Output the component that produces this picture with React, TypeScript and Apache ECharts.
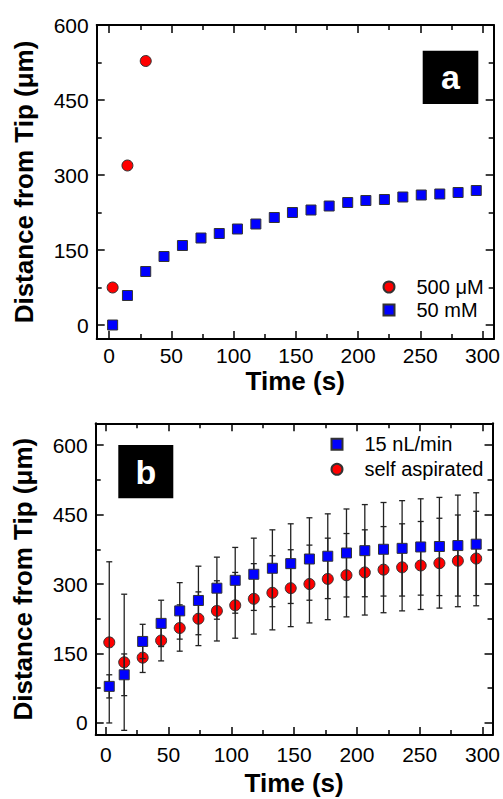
import React, { useEffect, useRef } from "react";
import * as echarts from "echarts";

// ---------- data ----------
const timeS = [2.8, 14.7, 29.4, 44.1, 58.9, 73.8, 88.5, 103.1, 117.9, 132.7, 147.3, 162.2, 176.8, 191.7, 206.3, 221.2, 236, 250.8, 265.7, 280.4, 295];

// panel a
const redA = [75, 319, 528]; // 500 µM (first three time points)
const blueA = [0, 59, 107, 137, 159, 174, 183, 192, 202, 215, 225, 230, 238, 245, 249, 251, 256, 260, 262, 265, 269]; // 50 mM

// panel b
const blueB = [79, 104, 176, 215, 242, 264.5, 291, 308, 321, 334, 344, 354, 360, 367, 372, 375, 377, 380, 381, 383, 386]; // 15 nL/min
const blueBErr = [25, 45, 37, 50, 61, 74, 67, 71, 78, 83, 86, 89, 91.5, 95, 99.5, 101, 103, 104, 106, 109, 111];
const redB = [174, 131, 141, 178, 205, 225, 242, 254, 268, 281, 291, 300, 311, 319, 325, 331, 336, 340, 345, 350, 355]; // self aspirated
const redBErr = [174, 147, 32, 44, 50, 58, 65, 71, 76, 80, 83, 84, 88, 90, 92, 93, 94, 95, 97, 99, 102];

const xMajor = [0, 50, 100, 150, 200, 250, 300];
const xMinor = [25, 75, 125, 175, 225, 275];
const yMajorA = [0, 150, 300, 450, 600];
const yMinorA = [75, 225, 375, 525];
const yMajorB = [0, 150, 300, 450, 600];
const yMinorB = [75, 225, 375, 525];

const FONT = "'Liberation Sans', Arial, sans-serif";

function xAxes(gridIndex: number, min: number, max: number, nameGap: number, labelMargin: number) {
  const common: any = { type: "value", gridIndex, min, max, splitLine: { show: false } };
  const line = { show: true, onZero: false, lineStyle: { color: "#000", width: 2 } };
  const noLine = { show: false, onZero: false };
  const tickStyle = { color: "#000", width: 1.5 };
  return [
    {
      ...common,
      position: "bottom",
      name: "Time (s)",
      nameLocation: "middle",
      nameGap,
      nameTextStyle: { fontFamily: FONT, fontWeight: "bold", fontSize: 26, color: "#000" },
      axisLine: line,
      axisTick: { show: true, inside: true, length: 8, customValues: xMajor, lineStyle: tickStyle },
      axisLabel: { show: true, customValues: xMajor, margin: labelMargin, fontFamily: FONT, fontSize: 21, color: "#000" },
    },
    {
      ...common,
      position: "bottom",
      axisLine: noLine,
      axisTick: { show: true, inside: true, length: 5, customValues: xMinor, lineStyle: tickStyle },
      axisLabel: { show: false },
    },
    {
      ...common,
      position: "top",
      axisLine: line,
      axisTick: { show: true, inside: true, length: 8, customValues: xMajor, lineStyle: tickStyle },
      axisLabel: { show: false },
    },
    {
      ...common,
      position: "top",
      axisLine: noLine,
      axisTick: { show: true, inside: true, length: 5, customValues: xMinor, lineStyle: tickStyle },
      axisLabel: { show: false },
    },
  ];
}

function yAxes(gridIndex: number, min: number, max: number, major: number[], minor: number[], nameGap: number) {
  const common: any = { type: "value", gridIndex, min, max, splitLine: { show: false } };
  const line = { show: true, onZero: false, lineStyle: { color: "#000", width: 2 } };
  const noLine = { show: false, onZero: false };
  const tickStyle = { color: "#000", width: 1.5 };
  return [
    {
      ...common,
      position: "left",
      name: "Distance from Tip (\u03bcm)",
      nameLocation: "middle",
      nameGap,
      nameTextStyle: { fontFamily: FONT, fontWeight: "bold", fontSize: 26, color: "#000" },
      axisLine: line,
      axisTick: { show: true, inside: true, length: 8, customValues: major, lineStyle: tickStyle },
      axisLabel: { show: true, customValues: major, margin: 8, fontFamily: FONT, fontSize: 21, color: "#000" },
    },
    {
      ...common,
      position: "left",
      axisLine: noLine,
      axisTick: { show: true, inside: true, length: 5, customValues: minor, lineStyle: tickStyle },
      axisLabel: { show: false },
    },
    {
      ...common,
      position: "right",
      axisLine: line,
      axisTick: { show: true, inside: true, length: 8, customValues: major, lineStyle: tickStyle },
      axisLabel: { show: false },
    },
    {
      ...common,
      position: "right",
      axisLine: noLine,
      axisTick: { show: true, inside: true, length: 5, customValues: minor, lineStyle: tickStyle },
      axisLabel: { show: false },
    },
  ];
}

function errRender(params: any, api: any) {
  const x = api.value(0);
  const lo = api.value(1);
  const hi = api.value(2);
  const p1 = api.coord([x, hi]);
  const p2 = api.coord([x, lo]);
  const hw = 3;
  const style = { stroke: "#222", lineWidth: 1.3, fill: null };
  return {
    type: "group",
    children: [
      { type: "line", shape: { x1: p1[0], y1: p1[1], x2: p2[0], y2: p2[1] }, style },
      { type: "line", shape: { x1: p1[0] - hw, y1: p1[1], x2: p1[0] + hw, y2: p1[1] }, style },
      { type: "line", shape: { x1: p2[0] - hw, y1: p2[1], x2: p2[0] + hw, y2: p2[1] }, style },
    ],
  };
}

const RED = "#ff0000";
const BLUE = "#0000ff";
const markerStyle = { borderColor: "#333", borderWidth: 1, opacity: 1 };

export default function App() {
  const ref = useRef<HTMLDivElement>(null);

  useEffect(() => {
    if (!ref.current) return;
    const chart = echarts.init(ref.current, null, { renderer: "svg" });

    const legendText = { fontFamily: FONT, fontSize: 20, color: "#000", lineHeight: 20, padding: [0, 0, 0, 17] };

    const option: any = {
      animation: false,
      backgroundColor: "#fff",
      grid: [
        { left: 96.7, top: 25, width: 400, height: 314 },
        { left: 95.7, top: 423.3, width: 397.6, height: 311.7 },
      ],
      xAxis: [...xAxes(0, -10, 309, 29, 6), ...xAxes(1, -8, 308, 35, 8.5)],
      yAxis: [...yAxes(0, -28, 600, yMajorA, yMinorA, 60), ...yAxes(1, -26, 647, yMajorB, yMinorB, 60)],
      legend: [
        {
          orient: "vertical",
          left: 382.5,
          top: 277,
          padding: 0,
          itemGap: 3,
          itemWidth: 11,
          itemHeight: 11,
          data: ["500 \u03bcM", "50 mM"],
          textStyle: legendText,
        },
        {
          orient: "vertical",
          left: 330.5,
          top: 434.3,
          padding: 0,
          itemGap: 5,
          itemWidth: 11,
          itemHeight: 11,
          data: ["15 nL/min", "self aspirated"],
          textStyle: legendText,
        },
      ],
      series: [
        {
          name: "500 \u03bcM",
          type: "scatter",
          xAxisIndex: 0,
          yAxisIndex: 0,
          symbol: "circle",
          symbolSize: 11,
          itemStyle: { color: RED, ...markerStyle },
          data: redA.map((v, i) => [timeS[i], v]),
          z: 3,
        },
        {
          name: "50 mM",
          type: "scatter",
          xAxisIndex: 0,
          yAxisIndex: 0,
          symbol: "rect",
          symbolSize: 10,
          itemStyle: { color: BLUE, ...markerStyle },
          data: blueA.map((v, i) => [timeS[i], v]),
          z: 3,
        },
        {
          name: "self aspirated",
          type: "scatter",
          xAxisIndex: 4,
          yAxisIndex: 4,
          symbol: "circle",
          symbolSize: 11,
          itemStyle: { color: RED, ...markerStyle },
          data: redB.map((v, i) => [timeS[i], v]),
          z: 2,
        },
        {
          name: "errRed",
          type: "custom",
          xAxisIndex: 4,
          yAxisIndex: 4,
          renderItem: errRender,
          encode: { x: 0, y: [1, 2] },
          data: redB.map((v, i) => [timeS[i], v - redBErr[i], v + redBErr[i]]),
          z: 3,
          silent: true,
        },
        {
          name: "errBlue",
          type: "custom",
          xAxisIndex: 4,
          yAxisIndex: 4,
          renderItem: errRender,
          encode: { x: 0, y: [1, 2] },
          data: blueB.map((v, i) => [timeS[i], v - blueBErr[i], v + blueBErr[i]]),
          z: 3,
          silent: true,
        },
        {
          name: "15 nL/min",
          type: "scatter",
          xAxisIndex: 4,
          yAxisIndex: 4,
          symbol: "rect",
          symbolSize: 10,
          itemStyle: { color: BLUE, ...markerStyle },
          data: blueB.map((v, i) => [timeS[i], v]),
          z: 4,
        },
      ],
      graphic: [
        {
          type: "group",
          left: 422.7,
          top: 50.7,
          children: [
            { type: "rect", shape: { x: 0, y: 0, width: 55.6, height: 53.3 }, style: { fill: "#000" } },
            {
              type: "text",
              x: 27.8,
              y: 26.6,
              style: { text: "a", fill: "#fff", font: `bold 34px ${FONT}`, align: "center", verticalAlign: "middle" },
            },
          ],
        },
        {
          type: "group",
          left: 118.3,
          top: 445,
          children: [
            { type: "rect", shape: { x: 0, y: 0, width: 55, height: 53.3 }, style: { fill: "#000" } },
            {
              type: "text",
              x: 27.5,
              y: 26.6,
              style: { text: "b", fill: "#fff", font: `bold 34px ${FONT}`, align: "center", verticalAlign: "middle" },
            },
          ],
        },
      ],
    };

    chart.setOption(option);
    return () => chart.dispose();
  }, []);

  return (
    <div
      ref={ref}
      style={{ position: "fixed", left: 0, top: 0, width: 503, height: 799, background: "#fff" }}
    />
  );
}
